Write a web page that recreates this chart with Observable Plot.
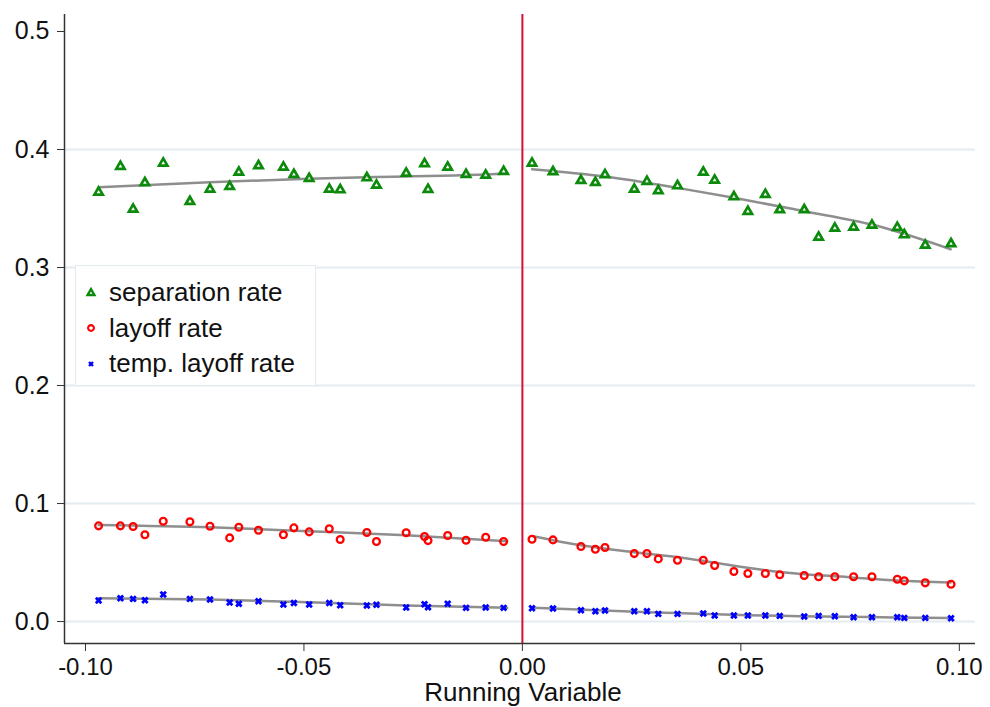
<!DOCTYPE html>
<html>
<head>
<meta charset="utf-8">
<script src="https://cdn.jsdelivr.net/npm/d3@7"></script>
<script src="https://cdn.jsdelivr.net/npm/@observablehq/plot@0.6"></script>
<style>
  body { margin: 0; background: #fff; font-family: "Liberation Sans", Arial, sans-serif; }
  #chart { position: relative; width: 990px; height: 707px; color: #111; overflow: hidden; }
  #legend {
    position: absolute; left: 75px; top: 265px; width: 241px; height: 121px;
    box-sizing: border-box; background: #fff; border: 1px solid #e4ebed;
    padding-top: 9px;
  }
  .row { display: flex; align-items: center; height: 35.5px; font-size: 26px; color: #111; }
  .row svg { margin-left: 9px; margin-right: 12px; flex: none; }
  #xtitle { position: absolute; left: 0; width: 1046px; top: 679px; line-height: 26px; text-align: center; font-size: 26px; color: #111; }
</style>
</head>
<body>
<div id="chart"></div>
<script>
// Bin midpoints of the running variable, left and right of the cutoff
const binsLeft = [-0.0970, -0.0920, -0.0891, -0.0864, -0.0822, -0.0761, -0.0715, -0.0670,
  -0.0649, -0.0604, -0.0547, -0.0523, -0.0488, -0.0442, -0.0417, -0.0356, -0.0334,
  -0.0266, -0.0224, -0.0216, -0.0171, -0.0129, -0.0084, -0.0043];
const binsRight = [0.0022, 0.0070, 0.0134, 0.0167, 0.0189, 0.0256, 0.0285, 0.0311, 0.0355,
  0.0414, 0.0440, 0.0484, 0.0516, 0.0556, 0.0589, 0.0645, 0.0678, 0.0715, 0.0758,
  0.0800, 0.0858, 0.0874, 0.0922, 0.0981];

// Bin means
const separationLeft = [0.3638, 0.3856, 0.3494, 0.3718, 0.3884, 0.3559, 0.3664, 0.3686,
  0.3808, 0.3862, 0.3850, 0.3788, 0.3754, 0.3664, 0.3658, 0.3760, 0.3697, 0.3799,
  0.3879, 0.3661, 0.3850, 0.3788, 0.3782, 0.3814];
const separationRight = [0.3884, 0.3811, 0.3737, 0.3720, 0.3786, 0.3664, 0.3729, 0.3650,
  0.3692, 0.3808, 0.3740, 0.3599, 0.3475, 0.3619, 0.3489, 0.3489, 0.3257, 0.3333,
  0.3342, 0.3358, 0.3339, 0.3277, 0.3189, 0.3201];
const layoffLeft = [0.0811, 0.0811, 0.0805, 0.0735, 0.0850, 0.0845, 0.0808, 0.0709, 0.0799,
  0.0774, 0.0735, 0.0794, 0.0760, 0.0786, 0.0695, 0.0754, 0.0678, 0.0752, 0.0720,
  0.0686, 0.0729, 0.0689, 0.0714, 0.0678];
const layoffRight = [0.0697, 0.0692, 0.0636, 0.0613, 0.0627, 0.0576, 0.0576, 0.0531, 0.0520,
  0.0520, 0.0475, 0.0424, 0.0407, 0.0407, 0.0396, 0.0390, 0.0379, 0.0379, 0.0379,
  0.0379, 0.0359, 0.0345, 0.0328, 0.0316];
const tempLayoffLeft = [0.0178, 0.0197, 0.0192, 0.0181, 0.0229, 0.0192, 0.0186, 0.0161,
  0.0150, 0.0172, 0.0144, 0.0158, 0.0144, 0.0158, 0.0138, 0.0136, 0.0142, 0.0119,
  0.0147, 0.0121, 0.0150, 0.0116, 0.0119, 0.0116];
const tempLayoffRight = [0.0113, 0.0110, 0.0096, 0.0087, 0.0093, 0.0087, 0.0087, 0.0065,
  0.0065, 0.0068, 0.0051, 0.0051, 0.0051, 0.0051, 0.0048, 0.0042, 0.0048, 0.0045,
  0.0036, 0.0036, 0.0036, 0.0031, 0.0031, 0.0028];

// Smoothed fits on each side of the cutoff: [running variable, fitted value]
const sepFitLeft = [[-0.0970, 0.3681], [-0.0716, 0.3723], [-0.0489, 0.3752], [-0.0356, 0.3765], [-0.0043, 0.3794], [-0.0035, 0.3797]];
const sepFitRight = [[0.0022, 0.3833], [0.0189, 0.3771], [0.0355, 0.3675], [0.0484, 0.3591], [0.0645, 0.3477], [0.0800, 0.3364], [0.0980, 0.3155]];
const layFitLeft = [[-0.0970, 0.0819], [-0.0714, 0.0799], [-0.0489, 0.0765], [-0.0266, 0.0731], [-0.0035, 0.0681]];
const layFitRight = [[0.0024, 0.0723], [0.0137, 0.0644], [0.0256, 0.0587], [0.0365, 0.0540], [0.0480, 0.0475], [0.0594, 0.0418], [0.0747, 0.0376], [0.0861, 0.0347], [0.0980, 0.0331]];
const tempFitLeft = [[-0.0970, 0.0197], [-0.0714, 0.0186], [-0.0489, 0.0164], [-0.0266, 0.0136], [-0.0035, 0.0116]];
const tempFitRight = [[0.0024, 0.0116], [0.0289, 0.0079], [0.0480, 0.0057], [0.0980, 0.0031]];

const yTicks = [0, 0.1, 0.2, 0.3, 0.4, 0.5];
const xTicks = [-0.10, -0.05, 0.00, 0.05, 0.10];
const gridLevels = [0, 0.1, 0.2, 0.3, 0.4];

const seriesNames = ["separation rate", "layoff rate", "temp. layoff rate"];
const colors = { "separation rate": "#0c8a0c", "layoff rate": "#ff0000", "temp. layoff rate": "#0000ff" };

function binRows(xs, ys, series, side) {
  return xs.map((x, i) => ({ x, y: ys[i], series, side }));
}
function fitRows(pairs, series, side) {
  return pairs.map(([x, y]) => ({ x, y, key: series + side }));
}

const sepPts = [...binRows(binsLeft, separationLeft, seriesNames[0], "L"), ...binRows(binsRight, separationRight, seriesNames[0], "R")];
const layPts = [...binRows(binsLeft, layoffLeft, seriesNames[1], "L"), ...binRows(binsRight, layoffRight, seriesNames[1], "R")];
const tmpPts = [...binRows(binsLeft, tempLayoffLeft, seriesNames[2], "L"), ...binRows(binsRight, tempLayoffRight, seriesNames[2], "R")];
const fits = [
  ...fitRows(sepFitLeft, "sep", "L"), ...fitRows(sepFitRight, "sep", "R"),
  ...fitRows(layFitLeft, "lay", "L"), ...fitRows(layFitRight, "lay", "R"),
  ...fitRows(tempFitLeft, "tmp", "L"), ...fitRows(tempFitRight, "tmp", "R")
];

const xDomain = [-0.1048, 0.1037];
const yDomain = [-0.0186, 0.5144];

const chart = Plot.plot({
  width: 990,
  height: 707,
  marginLeft: 64,
  marginRight: 15,
  marginTop: 14,
  marginBottom: 64,
  style: { fontFamily: "Liberation Sans, Arial, sans-serif", fontSize: "24px", color: "#111", background: "#fff" },
  x: { domain: xDomain },
  y: { domain: yDomain },
  marks: [
    Plot.ruleY(gridLevels, { stroke: "#e4ecef", strokeWidth: 2 }),
    Plot.ruleX([0], { stroke: "#d0103a", strokeWidth: 2 }),
    Plot.line(fits, { x: "x", y: "y", z: "key", stroke: "#8e8e8e", strokeWidth: 2.5, curve: "monotone-x" }),
    Plot.dot(sepPts, { x: "x", y: "y", symbol: "triangle", r: 3.1, stroke: colors[seriesNames[0]], strokeWidth: 2.7, fill: "#fff", fillOpacity: 0.6 }),
    Plot.dot(layPts, { x: "x", y: "y", symbol: "circle", r: 3.4, stroke: colors[seriesNames[1]], strokeWidth: 2.3, fill: "none" }),
    Plot.dot(tmpPts, { x: "x", y: "y", symbol: "times", r: 2.6, stroke: colors[seriesNames[2]], strokeWidth: 2.8 }),
    Plot.axisY({ ticks: yTicks, tickFormat: d => d.toFixed(1), tickSize: 7, tickPadding: 8, fontSize: 25, label: null, stroke: "#333" }),
    Plot.axisX({ ticks: xTicks, tickFormat: d => d.toFixed(2), tickSize: 8, tickPadding: 6, fontSize: 24, label: null, stroke: "#333" }),
    Plot.ruleX([xDomain[0]], { stroke: "#333", strokeWidth: 1.5 }),
    Plot.ruleY([yDomain[0]], { stroke: "#333", strokeWidth: 1.5 })
  ]
});

const root = document.getElementById("chart");
root.appendChild(chart);

// Legend box drawn over the plot area
const legend = document.createElement("div");
legend.id = "legend";
const icons = {
  "separation rate": `<svg width="12" height="12" viewBox="-6 -6 12 12"><path d="${d3.symbol(d3.symbolTriangle, 20)()}" fill="none" stroke="${colors["separation rate"]}" stroke-width="2.4"/></svg>`,
  "layoff rate": `<svg width="12" height="12" viewBox="-6 -6 12 12"><circle r="2.9" fill="none" stroke="${colors["layoff rate"]}" stroke-width="2.1"/></svg>`,
  "temp. layoff rate": `<svg width="12" height="12" viewBox="-6 -6 12 12"><path d="M-2,-2L2,2M-2,2L2,-2" stroke="${colors["temp. layoff rate"]}" stroke-width="2.4"/></svg>`
};
for (const name of seriesNames) {
  const row = document.createElement("div");
  row.className = "row";
  row.innerHTML = icons[name] + `<span>${name}</span>`;
  legend.appendChild(row);
}
root.appendChild(legend);

const xtitle = document.createElement("div");
xtitle.id = "xtitle";
xtitle.textContent = "Running Variable";
root.appendChild(xtitle);
</script>
</body>
</html>
